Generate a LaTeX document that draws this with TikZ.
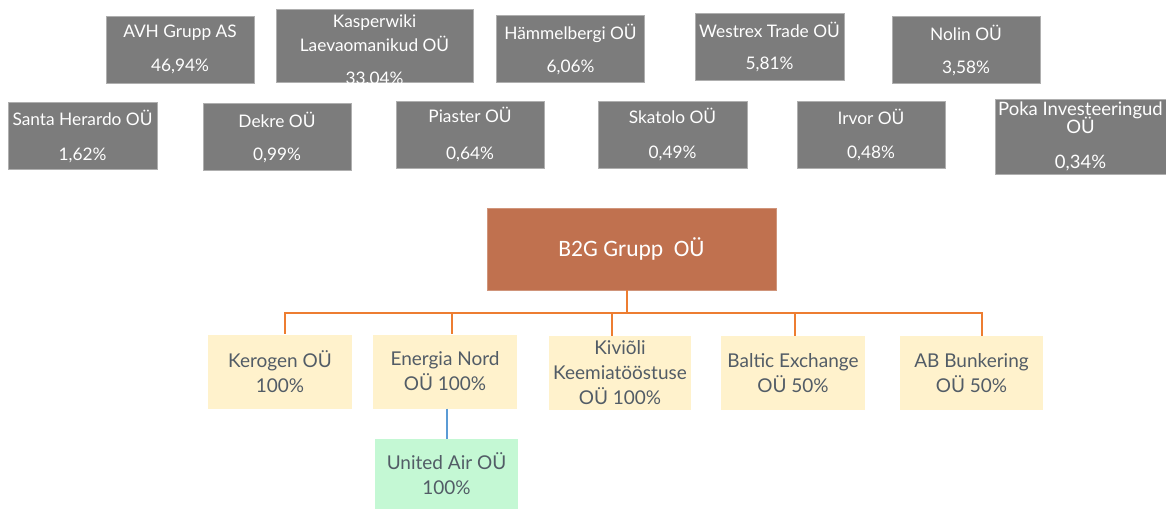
\documentclass[tikz,border=0pt]{standalone}
\usepackage{fontspec}
\setmainfont{Lato}
\newfontfamily\parentfont{Carlito}
\usetikzlibrary{positioning}
\definecolor{ownergrey}{RGB}{124,124,124}
\definecolor{ownerline}{RGB}{175,175,175}
\definecolor{b2gbrown}{RGB}{192,113,79}
\definecolor{suborange}{RGB}{237,125,49}
\definecolor{subcream}{RGB}{255,242,204}
\definecolor{subtext}{RGB}{82,92,102}
\definecolor{airgreen}{RGB}{196,248,212}
\definecolor{airblue}{RGB}{91,155,213}

\begin{document}
\begin{tikzpicture}[x=1pt, y=-1pt,
    owner/.style={rectangle, draw=ownerline, fill=ownergrey, text=white, align=center,
                  minimum width=148pt, minimum height=67pt, inner sep=0pt,
                  font=\fontsize{17.3}{20}\selectfont},
    parent/.style={rectangle, draw=b2gbrown!75!white, fill=b2gbrown, text=white,
                   minimum width=289pt, minimum height=82pt, inner sep=0pt,
                   font=\parentfont\fontsize{23.5}{28}\selectfont},
    sub/.style={rectangle, fill=subcream, text=subtext, align=center,
                minimum width=144pt, minimum height=74pt, inner sep=0pt,
                font=\fontsize{19}{25}\selectfont},
    orgline/.style={draw=suborange, line width=2pt},
    airline/.style={draw=airblue, line width=1.5pt}]
\useasboundingbox (0,0) rectangle (1166,509);
% owners, top row
\node[owner] (avh) at (180,49.5) {AVH Grupp AS\\[14pt]46,94\%};
% the percentage sits on the lower edge here
\node[owner, minimum width=197pt, minimum height=73pt] (kasper) at (374.5,45.5)
     {\raisebox{-10.7pt}[0pt][0pt]{\begin{tabular}{@{}c@{}}Kasperwiki\\[2.6pt]Laevaomanikud OÜ\\[12.4pt]33,04\%\end{tabular}}};
\node[owner] (hammel) at (570.5,49) {Hämmelbergi OÜ\\[13pt]6,06\%};
\node[owner, minimum width=149pt] (westrex) at (769.5,47) {Westrex Trade OÜ\\[12pt]5,81\%};
\node[owner] (nolin) at (966,50) {Nolin OÜ\\[13pt]3,58\%};
% owners, second row
\node[owner, minimum width=149pt] (santa) at (82.5,136) {Santa Herardo OÜ\\[15pt]1,62\%};
\node[owner] (dekre) at (277,137) {Dekre OÜ\\[13pt]0,99\%};
\node[owner] (piaster) at (470,134.5) {Piaster OÜ\\[17pt]0,64\%};
\node[owner, minimum width=149pt] (skatolo) at (672.5,134.5) {Skatolo OÜ\\[15pt]0,49\%};
\node[owner] (irvor) at (871,134.5) {Irvor OÜ\\[14pt]0,48\%};
\node[owner, minimum width=171pt, minimum height=75pt,
      font=\fontsize{18.5}{20}\selectfont] (poka) at (1080.5,136.5)
     {Poka Investeeringud\\[-1.3pt]OÜ\\[15pt]0,34\%};
% the group company
\node[parent] (b2g) at (631.5,249) {B2G Grupp~ OÜ};
% subsidiaries
\node[sub] (kerogen) at (280,371.5) {Kerogen OÜ\\100\%};
\node[sub] (energia) at (445,371.5) {Energia Nord\\OÜ 100\%};
\node[sub, minimum width=142pt] (kivioli) at (620,373) {Kiviõli\\Keemiatööstuse\\OÜ 100\%};
\node[sub] (baltic) at (793,373) {Baltic Exchange\\OÜ 50\%};
\node[sub, minimum width=143pt] (abbunk) at (971.5,373) {AB Bunkering\\OÜ 50\%};
\node[sub, fill=airgreen, minimum width=143pt, minimum height=70pt] (united) at (446.5,474)
     {United Air OÜ\\100\%};
% tree lines
\coordinate (bus) at (627,313);
\draw[orgline] (bus |- b2g.south) -- (bus);
\foreach \c/\dx in {kerogen/5,energia/7,kivioli/-8,baltic/2,abbunk/10.5}
  \draw[orgline] (bus) -| ([xshift=\dx pt]\c.north);
\draw[airline] ([xshift=2pt]energia.south) -- ([xshift=2pt]energia.south |- united.north);
\end{tikzpicture}
\end{document}
